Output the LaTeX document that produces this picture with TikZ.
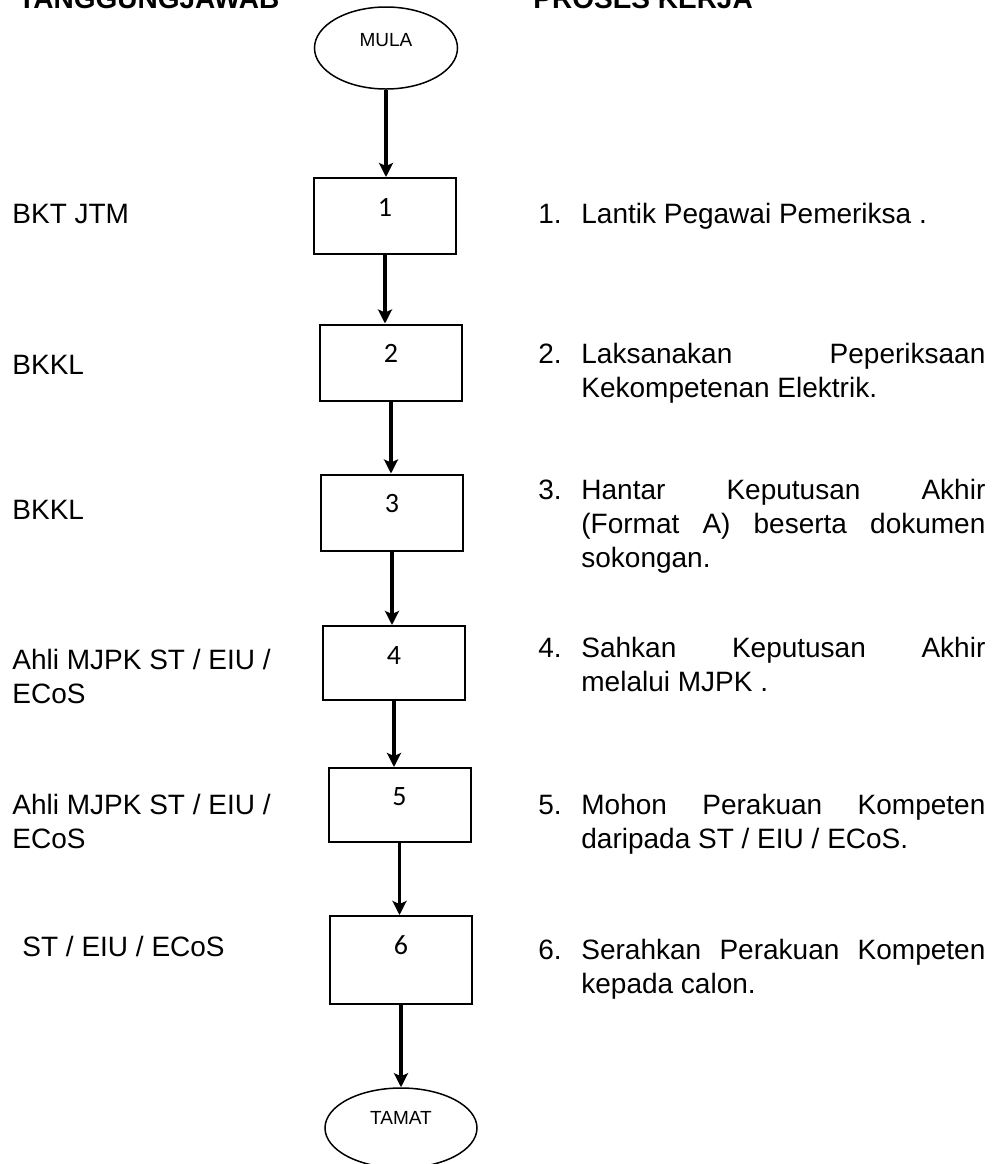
\documentclass[tikz,border=0pt]{standalone}
\usepackage{fontspec}
\setmainfont{Liberation Sans}
\newfontfamily\boxfont{Carlito}
\usetikzlibrary{arrows.meta,shapes.geometric}
\tolerance=10000
\hbadness=10000

\begin{document}
\begin{tikzpicture}[x=0.5pt,y=-0.5pt,
		txt/.style={inner sep=0pt,anchor=base west,font=\fontsize{14}{17}\selectfont},
		head/.style={txt,font=\fontsize{14}{17}\selectfont\bfseries},
		resp/.style={txt,text width=150pt,align=flush left},
		proc/.style={txt,text width=202pt,align=justify},
		stepbox/.style={draw,line width=1pt,minimum width=71pt,minimum height=38pt,inner sep=0pt},
		stepnum/.style={inner sep=0pt,font=\boxfont\fontsize{14}{16}\selectfont},
		term/.style={draw,ellipse,line width=0.75pt,inner sep=0pt},
		termtxt/.style={inner sep=0pt,font=\fontsize{9.5}{11}\selectfont},
		flow/.style={line width=1.7pt,-{Stealth[length=7pt,width=7pt,inset=1.5pt]}}]
	\useasboundingbox (0,0) rectangle (997,1164);

	% column headings
	\node[head] (hresp) at (18,8) {TANGGUNGJAWAB};
	\node[head] (hproc) at (533,8) {PROSES KERJA};

	% start / end
	\node[term,minimum width=71.5pt,minimum height=41pt] (mula) at (386,48) {};
	\node[termtxt] (mulatxt) at ([yshift=4pt]mula.center) {MULA};
	\node[term,minimum width=76pt,minimum height=40pt] (tamat) at (401,1128) {};
	\node[termtxt] (tamattxt) at ([yshift=5pt]tamat.center) {TAMAT};

	% process boxes
	\node[stepbox] (b1) at (385,216) {};
	\node[stepbox] (b2) at (391,362.5) {};
	\node[stepbox] (b3) at (392,512.5) {};
	\node[stepbox,minimum height=37pt] (b4) at (394,663) {};
	\node[stepbox,minimum height=37pt] (b5) at (399.5,805) {};
	\node[stepbox,minimum height=44pt] (b6) at (401,960) {};
	\foreach \b in {1,...,6}
		\node[stepnum] (n\b) at ([yshift=-15pt]b\b.north) {\b};

	\foreach \a/\b in {mula/b1,b1/b2,b2/b3,b3/b4,b4/b5,b5/b6,b6/tamat}
		\draw[flow] (\a.south) -- (\a.south |- \b.north);

	% who is responsible
	\node[resp] (r1) at (12,223) {BKT JTM};
	\node[resp] (r2) at (12,374) {BKKL};
	\node[resp] (r3) at (12,519) {BKKL};
	\node[resp] (r4) at (12,669) {Ahli MJPK ST / EIU /\\ECoS};
	\node[resp] (r5) at (12,814) {Ahli MJPK ST / EIU /\\ECoS};
	\node[resp] (r6) at (22,956) {ST / EIU / ECoS};

	% work steps
	\node[txt] (k1) at (538,223) {1.};
	\node[proc] (p1) at (581,223) {Lantik Pegawai Pemeriksa .};
	\node[txt] (k2) at (538,363) {2.};
	\node[proc] (p2) at (581,363) {Laksanakan Peperiksaan\linebreak Kekompetenan Elektrik.};
	\node[txt] (k3) at (538,499) {3.};
	\node[proc] (p3) at (581,499) {Hantar Keputusan Akhir\linebreak (Format A) beserta dokumen\linebreak sokongan.};
	\node[txt] (k4) at (538,657) {4.};
	\node[proc] (p4) at (581,657) {Sahkan Keputusan Akhir\linebreak melalui MJPK .};
	\node[txt] (k5) at (538,814) {5.};
	\node[proc] (p5) at (581,814) {Mohon Perakuan Kompeten\linebreak daripada ST / EIU / ECoS.};
	\node[txt] (k6) at (538,959) {6.};
	\node[proc] (p6) at (581,959) {Serahkan Perakuan Kompeten\linebreak kepada calon.};
\end{tikzpicture}
\end{document}
